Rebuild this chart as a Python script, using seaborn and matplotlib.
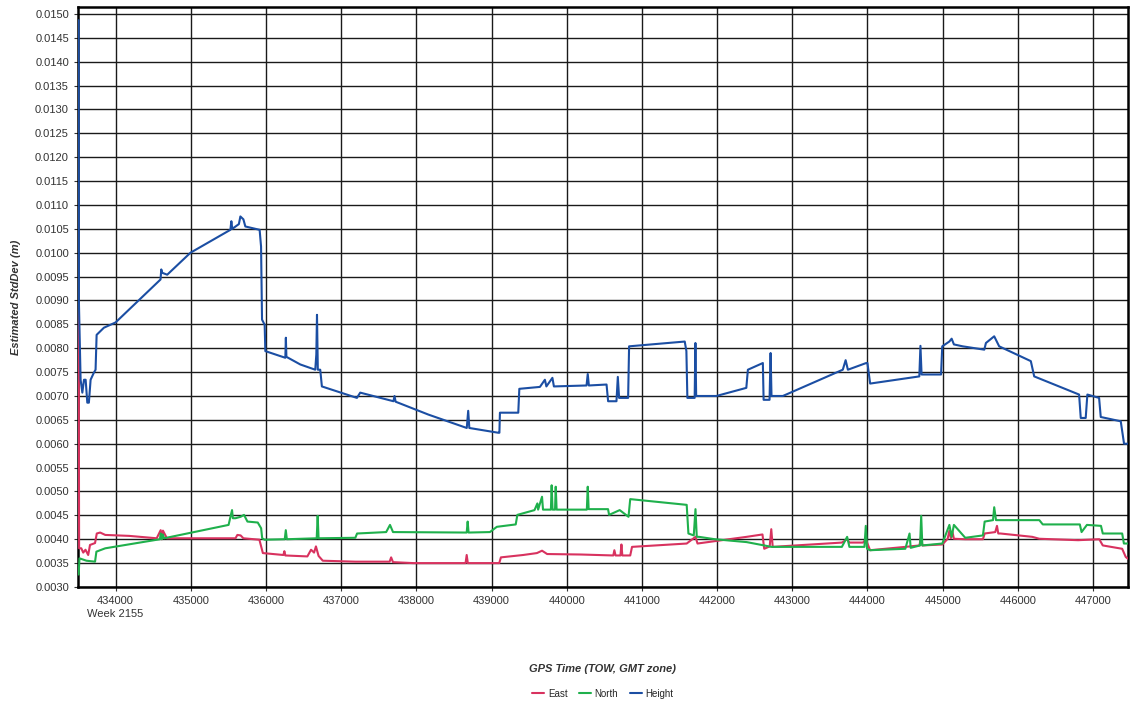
import pandas as pd
import matplotlib
matplotlib.use("Agg")
import matplotlib.pyplot as plt
import seaborn as sns
from matplotlib.ticker import FormatStrFormatter, MultipleLocator

# ------------------------------
# Data (GPS TOW seconds, std dev in metres)
# ------------------------------
height_t = [433509, 433512, 433535, 433558, 433580, 433602, 433624, 433645, 433668, 433712,
            433734, 433748, 433845, 434000, 434598, 434608, 434620, 434687, 434996, 435527,
            435540, 435552, 435640, 435660, 435700, 435726, 435916, 435935, 435948, 435983,
            435992, 436258, 436265, 436272, 436457, 436656, 436670, 436679, 436690, 436722,
            436744, 437210, 437254, 437696, 437710, 437725, 438161, 438671, 438690, 438705,
            439090, 439105, 439112, 439356, 439370, 439644, 439710, 439730, 439810, 439830,
            440264, 440280, 440295, 440530, 440551, 440662, 440680, 440697, 440817, 440830,
            441570, 441592, 441605, 441702, 441712, 441722, 441991, 442389, 442410, 442609,
            442619, 442698, 442712, 442724, 442875, 443672, 443710, 443740, 443983, 444000,
            444036, 444690, 444705, 444720, 444979, 444995, 445089, 445120, 445150, 445266,
            445554, 445576, 445686, 445752, 446173, 446218, 446815, 446837, 446903, 446925,
            447081, 447103, 447369, 447413, 447465]
height_v = [0.01487, 0.00900, 0.00734, 0.00707, 0.00734, 0.00734, 0.00686, 0.00686, 0.00734, 0.00749,
            0.00755, 0.00828, 0.00843, 0.00854, 0.00944, 0.00965, 0.00958, 0.00954, 0.01000, 0.01048,
            0.01066, 0.01050, 0.01060, 0.01076, 0.01070, 0.01055, 0.01048, 0.01013, 0.00860, 0.00849,
            0.00794, 0.00780, 0.00822, 0.00782, 0.00766, 0.00755, 0.00787, 0.00870, 0.00755, 0.00755,
            0.00720, 0.00696, 0.00707, 0.00689, 0.00700, 0.00688, 0.00661, 0.00633, 0.00669, 0.00633,
            0.00623, 0.00623, 0.00665, 0.00665, 0.00715, 0.00719, 0.00734, 0.00720, 0.00738, 0.00720,
            0.00722, 0.00746, 0.00722, 0.00724, 0.00689, 0.00689, 0.00740, 0.00696, 0.00696, 0.00804,
            0.00814, 0.00794, 0.00696, 0.00696, 0.00811, 0.00700, 0.00700, 0.00717, 0.00755, 0.00769,
            0.00692, 0.00692, 0.00790, 0.00700, 0.00700, 0.00755, 0.00775, 0.00755, 0.00769, 0.00769,
            0.00726, 0.00741, 0.00805, 0.00745, 0.00745, 0.00804, 0.00814, 0.00820, 0.00808, 0.00804,
            0.00797, 0.00811, 0.00825, 0.00804, 0.00773, 0.00741, 0.00703, 0.00654, 0.00654, 0.00703,
            0.00696, 0.00656, 0.00647, 0.00600, 0.00600]

east_t = [433509, 433515, 433544, 433570, 433600, 433636, 433660, 433727, 433750, 433795,
          433863, 434182, 434547, 434600, 434615, 434630, 434683, 435595, 435620, 435663,
          435700, 435913, 435959, 436232, 436245, 436258, 436551, 436600, 436640, 436665,
          436700, 436756, 437189, 437645, 437665, 437690, 437964, 438655, 438670, 438685,
          439103, 439125, 439421, 439604, 439672, 439740, 440189, 440620, 440634, 440650,
          440715, 440728, 440740, 440845, 440869, 441596, 441713, 441740, 441971, 442393,
          442604, 442627, 442700, 442721, 442740, 443660, 443730, 443760, 443941, 443978,
          444035, 444504, 444692, 444715, 444730, 444996, 445067, 445090, 445110, 445130,
          445150, 445301, 445536, 445559, 445700, 445723, 445740, 445770, 446192, 446286,
          446802, 447083, 447130, 447388, 447435, 447465]
east_v = [0.00880, 0.00381, 0.00381, 0.00372, 0.00378, 0.00367, 0.00388, 0.00392, 0.00412, 0.00414,
          0.00409, 0.00407, 0.00402, 0.00419, 0.00400, 0.00418, 0.00402, 0.00402, 0.00409, 0.00408,
          0.00402, 0.00399, 0.00371, 0.00367, 0.00375, 0.00366, 0.00364, 0.00378, 0.00372, 0.00385,
          0.00365, 0.00355, 0.00353, 0.00353, 0.00362, 0.00352, 0.00350, 0.00350, 0.00367, 0.00350,
          0.00350, 0.00362, 0.00367, 0.00371, 0.00376, 0.00369, 0.00368, 0.00366, 0.00377, 0.00366,
          0.00366, 0.00389, 0.00366, 0.00366, 0.00384, 0.00391, 0.00405, 0.00391, 0.00396, 0.00405,
          0.00410, 0.00380, 0.00385, 0.00421, 0.00384, 0.00393, 0.00400, 0.00393, 0.00393, 0.00400,
          0.00377, 0.00384, 0.00387, 0.00408, 0.00387, 0.00389, 0.00401, 0.00418, 0.00402, 0.00416,
          0.00401, 0.00400, 0.00400, 0.00412, 0.00415, 0.00428, 0.00412, 0.00412, 0.00405, 0.00401,
          0.00398, 0.00400, 0.00387, 0.00380, 0.00363, 0.00359]

north_t = [433509, 433520, 433613, 433727, 433745, 433863, 434590, 434600, 434615, 434630,
           434645, 435503, 435549, 435560, 435595, 435663, 435708, 435754, 435891, 435936,
           435950, 435982, 436250, 436264, 436278, 436675, 436688, 436700, 437189, 437212,
           437599, 437650, 437690, 438670, 438683, 438695, 438979, 439071, 439322, 439344,
           439572, 439610, 439620, 439672, 439685, 439790, 439800, 439812, 439845, 439854,
           439866, 440268, 440280, 440292, 440550, 440564, 440705, 440822, 440845, 441596,
           441619, 441690, 441713, 441730, 441760, 441971, 442393, 442627, 442721, 443660,
           443730, 443760, 443960, 443978, 443995, 444035, 444504, 444560, 444575, 444700,
           444715, 444730, 444996, 445090, 445120, 445150, 445301, 445536, 445559, 445670,
           445686, 445710, 446286, 446332, 446825, 446848, 446919, 447106, 447130, 447388,
           447411, 447465]
north_v = [0.00326, 0.00360, 0.00355, 0.00353, 0.00374, 0.00381, 0.00400, 0.00412, 0.00400, 0.00410,
           0.00402, 0.00430, 0.00461, 0.00444, 0.00444, 0.00447, 0.00451, 0.00437, 0.00435, 0.00423,
           0.00402, 0.00399, 0.00400, 0.00419, 0.00400, 0.00402, 0.00449, 0.00402, 0.00403, 0.00412,
           0.00415, 0.00430, 0.00415, 0.00414, 0.00437, 0.00414, 0.00415, 0.00426, 0.00431, 0.00451,
           0.00461, 0.00475, 0.00462, 0.00489, 0.00462, 0.00462, 0.00513, 0.00462, 0.00462, 0.00510,
           0.00462, 0.00462, 0.00510, 0.00463, 0.00463, 0.00451, 0.00461, 0.00447, 0.00484, 0.00472,
           0.00412, 0.00408, 0.00463, 0.00405, 0.00405, 0.00400, 0.00394, 0.00387, 0.00384, 0.00384,
           0.00405, 0.00384, 0.00384, 0.00428, 0.00380, 0.00377, 0.00380, 0.00412, 0.00382, 0.00387,
           0.00449, 0.00387, 0.00391, 0.00430, 0.00405, 0.00430, 0.00403, 0.00408, 0.00437, 0.00440,
           0.00467, 0.00440, 0.00440, 0.00431, 0.00431, 0.00415, 0.00430, 0.00428, 0.00412, 0.00412,
           0.00391, 0.00391]

series_names = ["East", "North", "Height"]
series_colors = ["#d8325f", "#1fb04c", "#1b4ea3"]

# ------------------------------
# Long-form table for seaborn
# ------------------------------
df = pd.concat([
    pd.DataFrame({"tow": east_t, "sd": east_v, "series": "East"}),
    pd.DataFrame({"tow": north_t, "sd": north_v, "series": "North"}),
    pd.DataFrame({"tow": height_t, "sd": height_v, "series": "Height"}),
], ignore_index=True)

sns.set_style("white")
plt.rcParams["font.family"] = ["Liberation Sans", "DejaVu Sans"]

fig = plt.figure(figsize=(11.35, 7.09), dpi=100)
ax = fig.add_axes([0.0687, 0.1721, 0.9251, 0.818])

sns.lineplot(data=df, x="tow", y="sd", hue="series", hue_order=series_names,
             palette=dict(zip(series_names, series_colors)), estimator=None,
             sort=False, linewidth=1.5, ax=ax, zorder=3)

ax.set_xlim(433500, 447465)
ax.set_ylim(0.0030, 0.015146)
ax.yaxis.set_major_locator(MultipleLocator(0.0005))
ax.yaxis.set_major_formatter(FormatStrFormatter("%.4f"))
ax.set_xticks(list(range(434000, 448000, 1000)))
ax.xaxis.set_major_formatter(FormatStrFormatter("%d"))

ax.grid(True, color="#1a1a1a", linewidth=1.0, zorder=1)
for s in ax.spines.values():
    s.set_color("black")
    s.set_linewidth(1.8)

ax.tick_params(axis="both", labelsize=8, colors="#333333", length=3, width=0.8,
               direction="out", left=True, bottom=True)

ax.text(434000, -0.038, "Week 2155", transform=ax.get_xaxis_transform(),
        ha="center", va="top", fontsize=8, color="#333333")

ax.set_xlabel("GPS Time (TOW, GMT zone)", fontsize=8, fontweight="bold",
              fontstyle="italic", color="#333333", labelpad=42)
ax.set_ylabel("Estimated StdDev (m)", fontsize=8, fontweight="bold",
              fontstyle="italic", color="#333333", labelpad=10)

handles, labels = ax.get_legend_handles_labels()
ax.legend(handles, labels, loc="upper center", bbox_to_anchor=(0.5, -0.16),
          ncol=3, frameon=False, fontsize=7, handlelength=1.2, handletextpad=0.4,
          columnspacing=1.2)

fig.savefig("out.png", dpi=100)
plt.close(fig)
